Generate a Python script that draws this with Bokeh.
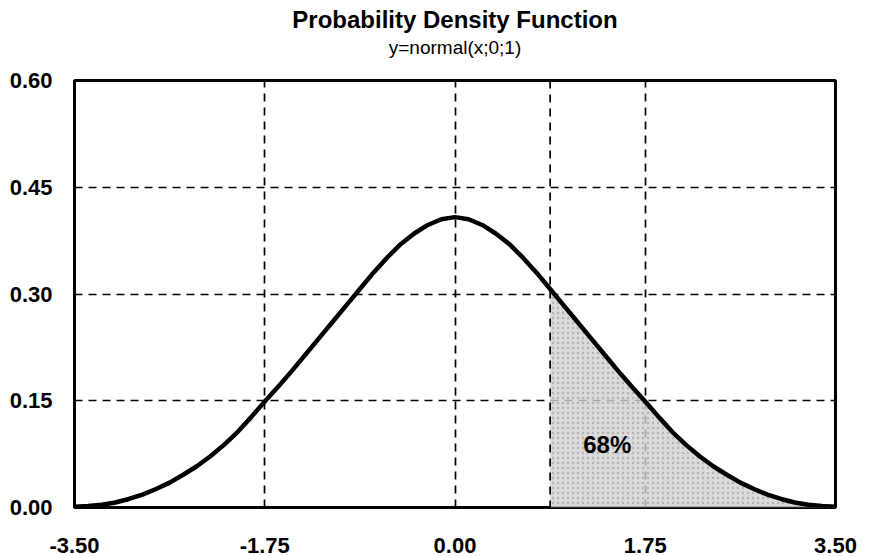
from bokeh.plotting import figure
from bokeh.models import Range1d, FixedTicker, Title, Label, Span
from bokeh.embed import file_html
from bokeh.resources import INLINE

# Curve values
xs = [-3.5, -3.375, -3.25, -3.125, -3.0, -2.875, -2.75, -2.625, -2.5, -2.375, -2.25, -2.125,
      -2.0, -1.875, -1.75, -1.625, -1.5, -1.375, -1.25, -1.125, -1.0, -0.875, -0.75, -0.625,
      -0.5, -0.375, -0.25, -0.125, 0.0, 0.125, 0.25, 0.375, 0.5, 0.625, 0.75, 0.875, 1.0,
      1.125, 1.25, 1.375, 1.5, 1.625, 1.75, 1.875, 2.0, 2.125, 2.25, 2.375, 2.5, 2.625, 2.75,
      2.875, 3.0, 3.125, 3.25, 3.375, 3.5]
ys = [0.001, 0.002, 0.004, 0.007, 0.012, 0.018, 0.026, 0.035, 0.046, 0.058, 0.072, 0.088,
      0.106, 0.127, 0.149, 0.170, 0.192, 0.215, 0.238, 0.261, 0.284, 0.307, 0.330, 0.351,
      0.370, 0.385, 0.397, 0.405, 0.408, 0.405, 0.397, 0.385, 0.370, 0.351, 0.330, 0.307, 0.284,
      0.261, 0.238, 0.215, 0.192, 0.170, 0.149, 0.127, 0.106, 0.088, 0.072, 0.058, 0.046, 0.035,
      0.026, 0.018, 0.012, 0.007, 0.004, 0.002, 0.001]
shade_from_x = 0.875
x_ticks = [-3.5, -1.75, 0.0, 1.75, 3.5]
y_ticks = [0.0, 0.15, 0.30, 0.45, 0.60]
label_text = "68%"
label_x = 1.40
label_y = 0.088
title_line1 = "Probability Density Function"
title_line2 = "y=normal(x;0;1)"

FONT = "Liberation Sans"

p = figure(width=871, height=556, output_backend="svg", toolbar_location=None,
           x_range=Range1d(-3.5, 3.5), y_range=Range1d(0, 0.6),
           min_border_left=74, min_border_right=36, min_border_top=80, min_border_bottom=49)
p.title = None
p.background_fill_color = "white"
p.border_fill_color = "white"
p.outline_line_color = "black"
p.outline_line_width = 3

# spacer between the frame and the two title lines
t0 = Title(text=" ", align="center", text_font=FONT, text_font_size="17px",
           text_color="white", standoff=0)
t2 = Title(text=title_line2, align="center", text_font=FONT, text_font_size="19px",
           text_font_style="normal", text_color="black", standoff=4)
t1 = Title(text=title_line1, align="center", text_font=FONT, text_font_size="24px",
           text_font_style="bold", text_color="black", standoff=0)
p.add_layout(t0, "above")
p.add_layout(t2, "above")
p.add_layout(t1, "above")

for ax in (p.xaxis[0], p.yaxis[0]):
    ax.axis_line_color = None
    ax.major_tick_line_color = None
    ax.minor_tick_line_color = None
    ax.major_label_text_font = FONT
    ax.major_label_text_font_size = "22px"
    ax.major_label_text_font_style = "bold"
    ax.major_label_text_color = "black"

p.xaxis.ticker = FixedTicker(ticks=x_ticks)
p.yaxis.ticker = FixedTicker(ticks=y_ticks)
p.xaxis.major_label_overrides = {t: f"{t:.2f}" for t in x_ticks}
p.yaxis.major_label_overrides = {t: f"{t:.2f}" for t in y_ticks}
p.xaxis.major_label_standoff = 24
p.yaxis.major_label_standoff = 16

for g in (p.xgrid[0], p.ygrid[0]):
    g.grid_line_color = "black"
    g.grid_line_width = 1.7
    g.grid_line_dash = "8 6"

# shaded area (from the curve's own values)
sx = [x for x in xs if x >= shade_from_x]
sy = [y for x, y in zip(xs, ys) if x >= shade_from_x]
p.varea(x=sx, y1=[0] * len(sx), y2=sy, fill_color="#d2d2d2", fill_alpha=0.8,
        hatch_pattern="dot", hatch_color="#777777", hatch_alpha=0.4, hatch_scale=5)
p.add_layout(Span(location=shade_from_x, dimension="height", line_color="black",
                  line_width=1.7, line_dash="8 6"))

p.line(xs, ys, line_color="black", line_width=4.5, line_join="round")

p.add_layout(Label(x=label_x, y=label_y, text=label_text, text_align="center",
                   text_baseline="middle", text_font=FONT, text_font_size="24px",
                   text_font_style="bold", text_color="black"))

open("out.html", "w").write(file_html(p, INLINE))
